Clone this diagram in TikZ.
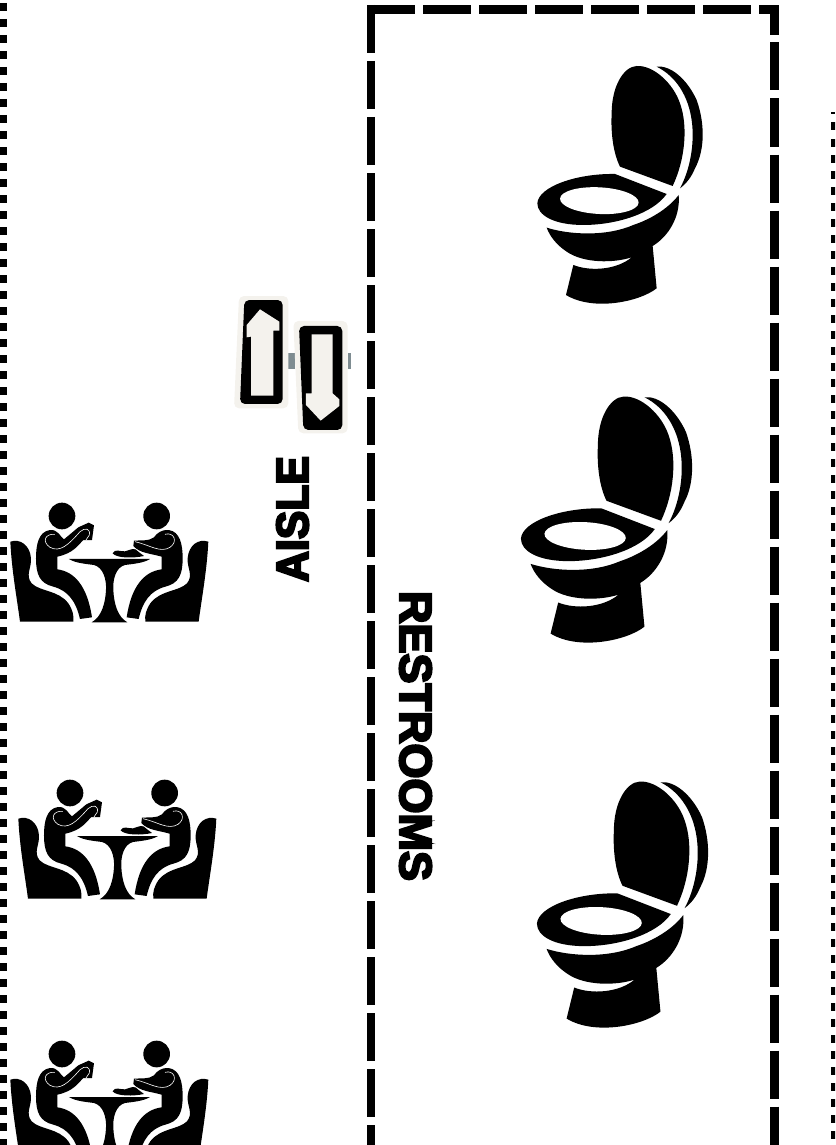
\documentclass[tikz,border=0pt]{standalone}
\usepackage{fontspec}
\usepackage{tikz}
\newfontfamily\signfont[BoldFeatures={FakeBold=5}]{Liberation Sans}
\definecolor{StepGrey}{RGB}{244, 242, 237}
\definecolor{RailGrey}{RGB}{126, 140, 145}
\tikzset{
  restroomline/.style={black, line width=8.5pt, dash pattern=on 48pt off 8pt},
  borderline/.style={black, line width=7pt, dash pattern=on 8pt off 8pt},
  signtext/.style={inner sep=0pt, font=\signfont\bfseries\fontsize{45}{45}\selectfont},
  toilet/.pic={
    % Back of the lid
    \fill (410,50) .. controls (450,45) and (500,85) .. (530,150) .. controls (555,220) and (555,300) .. (525,355) .. controls (515,380) and (500,400) .. (480,415) .. controls (510,360) and (525,280) .. (515,210) .. controls (505,140) and (470,80) .. (410,50) -- cycle;
    % Lid
    \fill (275,190) .. controls (275,110) and (310,50) .. (350,48) .. controls (400,45) and (460,100) .. (480,160) .. controls (505,230) and (495,330) .. (458,408) -- (300,350) .. controls (280,310) and (272,250) .. (275,190) -- cycle;
    % Seat
    \fill (285,372) -- (440,432) .. controls (400,490) and (290,525) .. (190,525) .. controls (100,525) and (52,495) .. (52,460) .. controls (55,410) and (170,370) .. (285,372) -- cycle;
    \fill[white, rotate around={-3:(238,452)}] (238,452) ellipse (118 and 40);
    % Bowl
    \fill (80,533) .. controls (150,555) and (260,560) .. (340,525) .. controls (400,505) and (450,470) .. (476,435) .. controls (482,500) and (445,560) .. (398,588) -- (410,715) .. controls (360,755) and (220,785) .. (138,735) -- (160,645) .. controls (210,665) and (290,660) .. (335,622) .. controls (280,640) and (190,640) .. (140,605) .. controls (110,585) and (90,560) .. (80,533) -- cycle;
  },
  diners/.pic={
    % Heads
    \fill (186,78) circle (40);
    \fill (470,78) circle (40);
    % Chairs
    \fill (31,155) .. controls (60,145) and (90,165) .. (93,205) .. controls (95,235) and (75,255) .. (95,280) .. controls (120,305) and (175,300) .. (205,340) .. controls (218,360) and (222,375) .. (220,395) -- (60,395) .. controls (50,320) and (35,240) .. (31,155) -- cycle;
    \fill (625,155) .. controls (596,145) and (566,165) .. (563,205) .. controls (561,235) and (581,255) .. (561,280) .. controls (536,305) and (481,300) .. (451,340) .. controls (438,360) and (434,375) .. (436,395) -- (596,395) .. controls (606,320) and (621,240) .. (625,155) -- cycle;
    % Left person
    \fill (108,205) .. controls (108,165) and (115,125) .. (150,120) .. controls (175,118) and (180,140) .. (192,148) -- (235,112) -- (266,98) -- (282,106) -- (276,150) -- (250,150) .. controls (235,165) and (220,190) .. (172,200) -- (172,238) .. controls (225,245) and (262,290) .. (276,382) -- (240,387) .. controls (228,335) and (205,302) .. (160,290) .. controls (120,280) and (108,255) .. (108,205) -- cycle;
    \draw[white, line width=.6pt] (165,133) .. controls (135,130) and (125,155) .. (150,172) .. controls (180,188) and (205,165) .. (240,125) .. controls (255,112) and (272,115) .. (268,135) -- (258,150);
    % Right person
    \fill (548,205) .. controls (548,165) and (541,125) .. (506,120) .. controls (485,118) and (470,130) .. (462,142) .. controls (445,155) and (420,150) .. (402,152) -- (400,168) .. controls (420,190) and (450,190) .. (485,200) -- (485,238) .. controls (431,245) and (394,290) .. (380,382) -- (416,387) .. controls (428,335) and (451,302) .. (496,290) .. controls (536,280) and (548,255) .. (548,205) -- cycle;
    \draw[white, line width=.6pt] (495,133) .. controls (522,125) and (535,155) .. (510,172) .. controls (480,190) and (450,165) .. (405,155);
    % Plate
    \fill (338,190) .. controls (345,175) and (360,185) .. (375,184) .. controls (390,180) and (405,170) .. (415,185) -- (432,198) .. controls (400,205) and (350,205) .. (338,190) -- cycle;
    % Table
    \fill (207,207) -- (450,207) .. controls (430,220) and (395,222) .. (375,225) .. controls (347,232) and (338,270) .. (340,300) .. controls (342,340) and (352,380) .. (382,397) -- (275,397) .. controls (305,380) and (316,340) .. (318,300) .. controls (320,270) and (310,232) .. (282,225) .. controls (262,222) and (227,220) .. (207,207) -- cycle;
  },
}

\begin{document}
\begin{tikzpicture}[x=1pt, y=-1pt]
    \clip (0,0) rectangle (835,1145);

    % Outer walls
    \draw[borderline] (3.5,3) -- (3.5,1150);
    \draw[borderline, line width=8pt] (835,122.5) -- (835,1150);
    \draw[black, line width=2pt] (831,113) -- (835,113);

    % Restrooms outline
    \draw[restroomline] (371,5) -- (371,1150);
    \draw[restroomline] (367,9.5) -- (751,9.5);
    \draw[black, line width=8.5pt, miter limit=10] (759,9.5) -- (774.5,9.5) -- (774.5,35);
    \draw[restroomline] (774.5,42.5) -- (774.5,1150);

    % Toilets
    \pic[scale=.3333] at (520,50) {toilet};
    \pic[scale=.345] at (503,380) {toilet};
    \pic[scale=.345] at (519,765) {toilet};

    % Tables
    \pic[scale=.3333] at (0,490) {diners};
    \pic[scale=.3333] at (8,767) {diners};
    \pic[scale=.3333] at (0,1028) {diners};

    % Escalators
    \begin{scope}[shift={(220,280)}, x=.3333pt, y=-.3333pt]
      \fill[RailGrey] (205,218) rectangle (226,268);
      \fill[RailGrey] (384,220) rectangle (392,268);
      \fill[StepGrey, rounded corners=5pt] (57,48) -- (205,48) -- (205,385) -- (42,385) -- cycle;
      \fill[rounded corners=5pt] (73,60) -- (188,60) -- (188,372) -- (60,372) -- cycle;
      \fill[StepGrey] (120,88) -- (178,125) -- (178,152) -- (160,152) -- (160,347) -- (93,347) -- (93,170) -- (80,172) -- (80,135) -- cycle;
      \fill[StepGrey, rounded corners=5pt] (220,123) -- (383,123) -- (383,460) -- (235,460) -- cycle;
      \fill[rounded corners=5pt] (237,138) -- (367,138) -- (367,450) -- (250,450) -- cycle;
      \fill[StepGrey] (275,163) -- (338,163) -- (338,340) -- (358,358) -- (358,378) -- (302,422) -- (258,375) -- (258,340) -- (275,340) -- cycle;
    \end{scope}

    % Labels
    \node[signtext, rotate=90, xscale=.95] (aisle) at (292.5,519) {AISLE};
    \node[signtext, rotate=-90] (restrooms) at (415.5,736) {RESTROOMS};
\end{tikzpicture}
\end{document}
